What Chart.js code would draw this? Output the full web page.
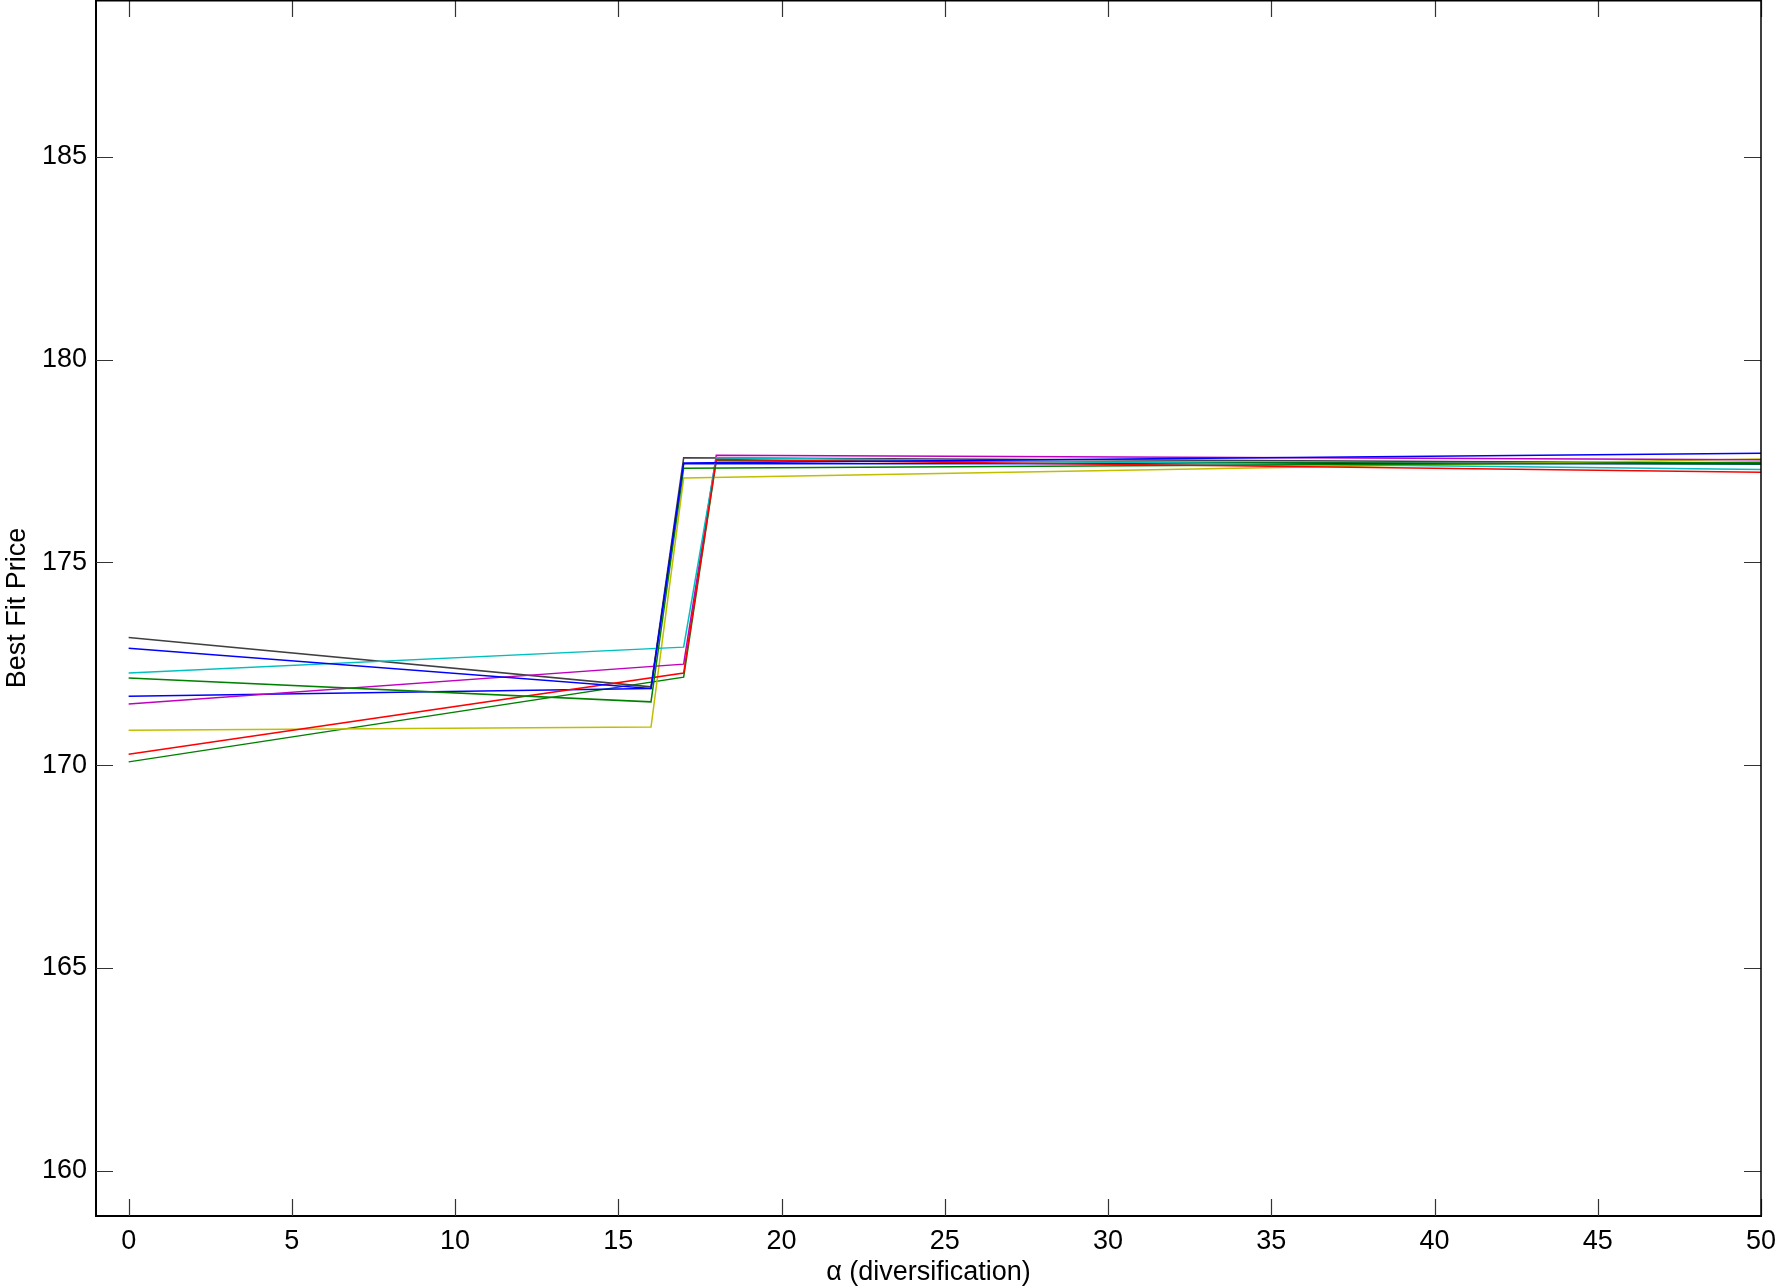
<!DOCTYPE html>
<html>
<head>
<meta charset="utf-8">
<script src="https://cdn.jsdelivr.net/npm/chart.js@4"></script>
<style>
  html, body { margin: 0; padding: 0; background: #fff; }
  #wrap { width: 1778px; height: 1286px; position: relative; }
</style>
</head>
<body>
<div id="wrap"><canvas id="c"></canvas></div>
<script>
// x positions (alpha) for the two groups of runs
const alphaKnee16 = [0, 16, 17, 50];
const alphaKnee17 = [0, 17, 18, 50];

// Best fit price values per run (MATLAB default colour order)
const run1Blue    = [172.88, 171.89, 177.45, 177.69];
const run2Green   = [172.15, 171.56, 177.32, 177.47];
const run3Red     = [170.27, 172.27, 177.54, 177.22];
const run4Cyan    = [172.27, 172.91, 177.58, 177.29];
const run5Magenta = [171.51, 172.49, 177.64, 177.53];
const run6Yellow  = [170.86, 170.94, 177.08, 177.55];
const run7Black   = [173.15, 171.93, 177.58, 177.45];
const run8Blue    = [171.70, 171.89, 177.43, 177.44];
const run9Green   = [170.08, 172.17, 177.51, 177.42];

const xTickValues = [0, 5, 10, 15, 20, 25, 30, 35, 40, 45, 50];
const yTickValues = [160, 165, 170, 175, 180, 185];

const runs = [
  { xs: alphaKnee16, ys: run1Blue,    color: '#0000FF' },
  { xs: alphaKnee16, ys: run2Green,   color: '#008000' },
  { xs: alphaKnee17, ys: run3Red,     color: '#FF0000' },
  { xs: alphaKnee17, ys: run4Cyan,    color: '#00BFBF' },
  { xs: alphaKnee17, ys: run5Magenta, color: '#BF00BF' },
  { xs: alphaKnee16, ys: run6Yellow,  color: '#BFBF00' },
  { xs: alphaKnee16, ys: run7Black,   color: '#404040' },
  { xs: alphaKnee16, ys: run8Blue,    color: '#0000FF' },
  { xs: alphaKnee17, ys: run9Green,   color: '#008000' }
];

const datasets = runs.map(r => ({
  data: r.xs.map((xv, i) => ({ x: xv, y: r.ys[i] })),
  borderColor: r.color,
  borderWidth: 1.5,
  pointRadius: 0,
  tension: 0,
  fill: false
}));

const TICK_FONT = { family: '"Liberation Sans", Arial, Helvetica, sans-serif', size: 27, lineHeight: 1 };
const TITLE_FONT = { family: '"Liberation Sans", Arial, Helvetica, sans-serif', size: 27, lineHeight: 1 };

const frameTicks = {
  id: 'frameTicks',
  afterDraw(chart) {
    const { ctx, chartArea: { left, right, top, bottom }, scales: { x, y } } = chart;
    const L = 17;
    ctx.save();
    ctx.strokeStyle = '#333';
    ctx.lineWidth = 1.2;
    ctx.beginPath();
    x.ticks.forEach(t => {
      const px = Math.round(x.getPixelForValue(t.value)) + 0.5;
      ctx.moveTo(px, bottom); ctx.lineTo(px, bottom - L);
      ctx.moveTo(px, top); ctx.lineTo(px, top + L);
    });
    y.ticks.forEach(t => {
      const py = Math.round(y.getPixelForValue(t.value)) + 0.5;
      ctx.moveTo(left, py); ctx.lineTo(left + L, py);
      ctx.moveTo(right, py); ctx.lineTo(right - L, py);
    });
    ctx.stroke();
    ctx.strokeStyle = '#000';
    ctx.lineWidth = 1.5;
    ctx.beginPath();
    ctx.moveTo(left, top + 0.75); ctx.lineTo(right, top + 0.75);
    ctx.moveTo(right, top); ctx.lineTo(right, bottom);
    ctx.stroke();
    ctx.restore();
  }
};

new Chart(document.getElementById('c'), {
  type: 'line',
  data: { datasets },
  options: {
    responsive: true,
    maintainAspectRatio: false,
    animation: false,
    layout: { padding: { left: 0, right: 17, top: 0, bottom: 0 } },
    plugins: { legend: { display: false }, tooltip: { enabled: false } },
    scales: {
      x: {
        type: 'linear',
        min: -1,
        max: 50,
        afterBuildTicks: s => { s.ticks = xTickValues.map(v => ({ value: v })); },
        afterFit: s => { s.height = 70; s.paddingLeft = 0; s.paddingRight = 0; },
        grid: { drawOnChartArea: false, drawTicks: false },
        border: { display: true, color: '#000', width: 2 },
        ticks: { color: '#000', font: TICK_FONT, padding: 12, maxRotation: 0, autoSkip: false },
        title: { display: true, text: 'α (diversification)', color: '#000', font: TITLE_FONT, padding: { top: 0, bottom: 0 } }
      },
      y: {
        type: 'linear',
        min: 158.88,
        max: 188.87,
        afterBuildTicks: s => { s.ticks = yTickValues.map(v => ({ value: v })); },
        afterFit: s => { s.width = 96; s.paddingTop = 0; s.paddingBottom = 0; },
        grid: { drawOnChartArea: false, drawTicks: false },
        border: { display: true, color: '#000', width: 2 },
        ticks: { color: '#000', font: TICK_FONT, padding: 9, autoSkip: false },
        title: { display: true, text: 'Best Fit Price', color: '#000', font: TITLE_FONT, padding: { top: 4, bottom: 0 } }
      }
    }
  },
  plugins: [frameTicks]
});
</script>
</body>
</html>
